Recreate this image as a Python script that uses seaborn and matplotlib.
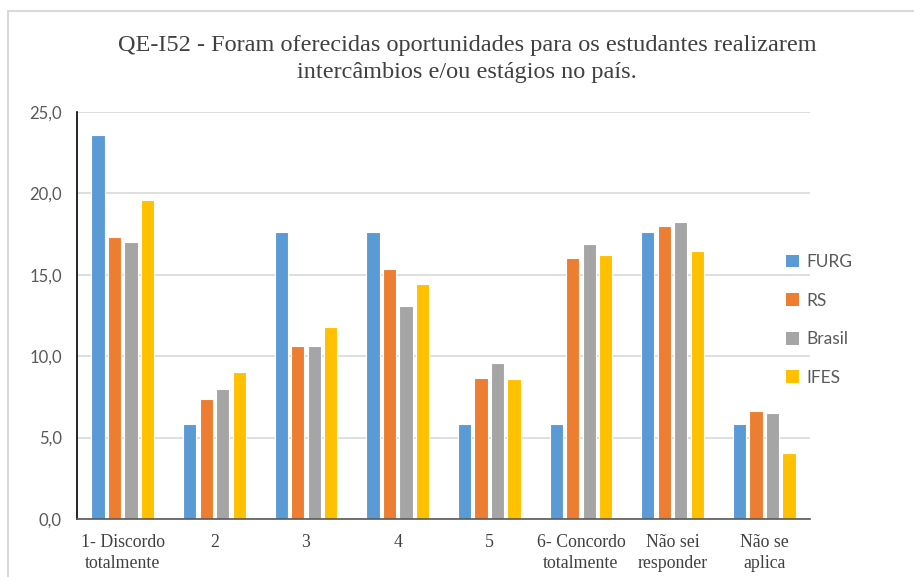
import matplotlib
matplotlib.use("Agg")
import matplotlib.pyplot as plt
import seaborn as sns
import pandas as pd
from matplotlib.patches import Rectangle, Patch
from matplotlib.ticker import FuncFormatter

categories = ["1- Discordo\ntotalmente", "2", "3", "4", "5",
              "6- Concordo\ntotalmente", "Não sei\nresponder", "Não se\naplica"]
series = ["FURG", "RS", "Brasil", "IFES"]
furg = [23.6, 5.85, 17.65, 17.65, 5.85, 5.85, 17.65, 5.85]
rs = [17.35, 7.35, 10.65, 15.35, 8.65, 16.05, 18.0, 6.65]
brasil = [17.0, 8.0, 10.6, 13.1, 9.6, 16.9, 18.25, 6.5]
ifes = [19.6, 9.0, 11.8, 14.45, 8.6, 16.2, 16.45, 4.05]
colors = ["#5B9BD5", "#ED7D31", "#A5A5A5", "#FFC000"]
title = "QE-I52 - Foram oferecidas oportunidades para os estudantes realizarem\nintercâmbios e/ou estágios no país."

rows = []
for name, vals in zip(series, [furg, rs, brasil, ifes]):
    for c, v in zip(categories, vals):
        rows.append({"cat": c, "serie": name, "valor": v})
df = pd.DataFrame(rows)

sns.set_theme(style="white")
fig = plt.figure(figsize=(9.14, 5.77), dpi=100)
ax = fig.add_axes([77/914, 1-519/577, (810-77)/914, (519-112)/577])

sns.barplot(data=df, x="cat", y="valor", hue="serie", order=categories,
            hue_order=series, palette=colors, width=0.72, gap=0.2,
            edgecolor="white", linewidth=0.8, saturation=1, ax=ax, legend=False)

ax.set_ylim(0, 25)
ax.set_yticks([0, 5, 10, 15, 20, 25])
ax.yaxis.set_major_formatter(FuncFormatter(lambda v, p: f"{v:.1f}".replace(".", ",")))
ax.set_xlim(-0.5, len(categories) - 0.5)
ax.grid(axis="y", color="#D9D9D9", linewidth=1.2)
ax.set_axisbelow(True)
for s in ["top", "right"]:
    ax.spines[s].set_visible(False)
ax.spines["left"].set_color("#000000")
ax.spines["left"].set_linewidth(1.2)
ax.spines["bottom"].set_color("#595959")
ax.spines["bottom"].set_linewidth(1.2)
ax.set_xlabel("")
ax.set_ylabel("")
ax.tick_params(axis="both", length=0)
ax.tick_params(axis="y", pad=11)
ax.tick_params(axis="x", pad=11)
for lab in ax.get_yticklabels():
    lab.set_fontfamily("Lato")
    lab.set_fontsize(12)
    lab.set_color("#595959")
for lab in ax.get_xticklabels():
    lab.set_fontfamily("Liberation Serif")
    lab.set_fontsize(12.8)
    lab.set_color("#404040")
    lab.set_linespacing(1.3)

fig.text(467/914, 1-59/577, title, ha="center", va="center",
         fontfamily="Liberation Serif", fontsize=17.5, color="#404040",
         linespacing=1.35)

handles = [Patch(facecolor=c, edgecolor="none") for c in colors]
leg = fig.legend(handles, series, loc="center left",
                 bbox_to_anchor=(770/914, 1-320/577), frameon=False,
                 prop={"family": "Lato", "size": 12.5}, labelcolor="#595959",
                 handlelength=0.75, handleheight=0.75, handletextpad=0.45,
                 labelspacing=1.3)

fig.patches.append(Rectangle((8/914, -0.05), 1.2, 1 - 11/577 + 0.05,
                             transform=fig.transFigure, fill=False,
                             edgecolor="#D9D9D9", linewidth=1.5))

fig.savefig("out.png", dpi=100)
